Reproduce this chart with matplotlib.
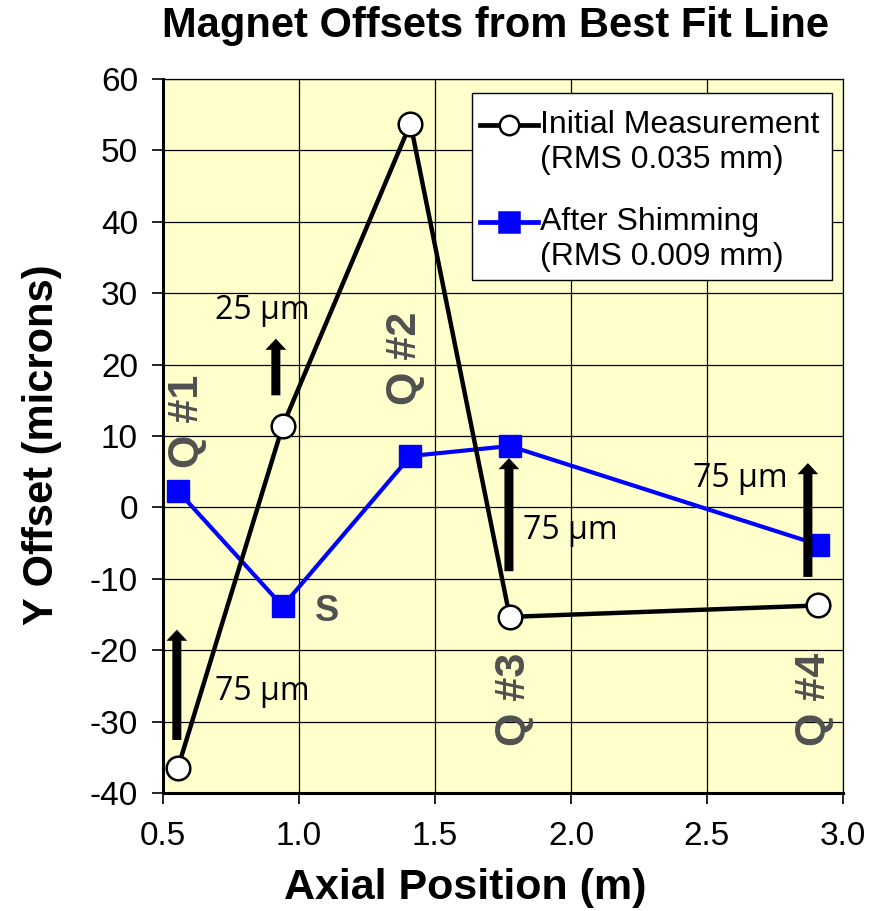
import matplotlib
matplotlib.use("Agg")
import matplotlib.pyplot as plt
from matplotlib.lines import Line2D
from matplotlib.patches import Rectangle, FancyArrowPatch

plt.rcParams["font.family"] = ["Liberation Sans", "DejaVu Sans"]
plt.rcParams["axes.unicode_minus"] = False

# magnet positions along the beam line (m)
positions = [0.555, 0.94, 1.41, 1.775, 2.91]
# vertical offsets from best fit line (microns)
initial = [-36.4, 11.4, 53.7, -15.3, -13.7]
shimmed = [2.3, -13.8, 7.2, 8.6, -5.2]

magnet_names = ["Q #1", "S", "Q #2", "Q #3", "Q #4"]
# shim moves: (x, from, to, label)
shims = [
    (0.551, -32.9, -16.7, "75 \u00b5m"),
    (0.915, 15.3, 24.0, "25 \u00b5m"),
    (1.772, -9.3, 7.3, "75 \u00b5m"),
    (2.871, -10.1, 6.6, "75 \u00b5m"),
]
shim_label_pos = [(0.864, -25.8), (0.864, 27.6), (1.996, -3.2), (2.621, 4.1)]
name_pos = [(0.59, 12.0), (1.103, -14.6), (1.388, 20.9), (1.789, -26.9), (2.895, -26.9)]

fig = plt.figure(figsize=(8.79, 9.11), dpi=100)
ax = fig.add_axes([0.1854, 0.129, 0.959 - 0.1854, 0.9138 - 0.129])
ax.set_facecolor("#FFFFCC")

ax.set_xlim(0.5, 3.0)
ax.set_ylim(-40, 60)
xticks = [0.5, 1.0, 1.5, 2.0, 2.5, 3.0]
ax.set_xticks(xticks)
ax.set_xticklabels([f"{v:.1f}" for v in xticks])
ax.set_yticks(range(-40, 61, 10))
ax.grid(True, color="black", linewidth=0.9)
ax.set_axisbelow(True)
ax.tick_params(labelsize=24, length=8, width=1.2)
ax.tick_params(axis="y", pad=10)
ax.tick_params(axis="x", pad=12)
for side in ["left", "bottom"]:
    ax.spines[side].set_linewidth(2.2)
for side in ["top", "right"]:
    ax.spines[side].set_linewidth(0.9)

ax.plot(positions, initial, color="black", lw=3.2, marker="o", ms=17,
        mfc="white", mec="black", mew=1.8, zorder=4)
ax.plot(positions, shimmed, color="#0000FF", lw=3.0, marker="s", ms=16,
        mfc="#0000FF", mec="#0000FF", zorder=3)

for x, y0, y1, _ in shims:
    arrow = FancyArrowPatch((x, y0), (x, y1),
                            arrowstyle="simple,head_length=0.8,head_width=1.5,tail_width=0.65",
                            mutation_scale=10, color="black", lw=0, zorder=5)
    ax.add_patch(arrow)
for (_, _, _, txt), (lx, ly) in zip(shims, shim_label_pos):
    ax.text(lx, ly, txt, fontsize=23, family=["Open Sans", "DejaVu Sans"],
            ha="center", va="center", zorder=6)

for name, (nx, ny) in zip(magnet_names, name_pos):
    if name == "S":
        ax.text(nx, ny, name, fontsize=26, fontweight="bold", color="#505050",
                ha="center", va="center", zorder=6)
    else:
        ax.text(nx, ny, name, fontsize=31, fontweight="bold", color="#505050",
                rotation=90, ha="center", va="center", zorder=6)

# legend box drawn by hand so the handle sits on the first text line
ax.add_patch(Rectangle((0.454, 0.718), 0.530, 0.262, transform=ax.transAxes,
                       facecolor="white", edgecolor="black", lw=1.0, zorder=7))
legend_rows = [
    (0.935, "black", "o", "white", "Initial Measurement", "(RMS 0.035 mm)"),
    (0.799, "#0000FF", "s", "#0000FF", "After Shimming", "(RMS 0.009 mm)"),
]
for ly, col, mk, mfc, line1, line2 in legend_rows:
    ax.add_line(Line2D([0.466, 0.552], [ly, ly], transform=ax.transAxes,
                       color=col, lw=3.4, zorder=8))
    ax.plot([0.509], [ly], transform=ax.transAxes, marker=mk, ms=14,
            mfc=mfc, mec=col, mew=1.8, zorder=9, clip_on=False)
    ax.text(0.555, ly, line1, transform=ax.transAxes, fontsize=23,
            ha="left", va="center", zorder=9)
    ax.text(0.555, ly - 0.049, line2, transform=ax.transAxes, fontsize=23,
            ha="left", va="center", zorder=9)

fig.text(42 / 879, 1 - 445 / 911, "Y Offset (microns)", fontsize=30,
         fontweight="bold", rotation=90, ha="center", va="center")
fig.text(465 / 879, 1 - 888 / 911, "Axial Position (m)", fontsize=31,
         fontweight="bold", ha="center", va="center")
fig.text(495 / 879, 1 - 26 / 911, "Magnet Offsets from Best Fit Line",
         fontsize=30, fontweight="bold", ha="center", va="center")

fig.savefig("out.png", dpi=100)
